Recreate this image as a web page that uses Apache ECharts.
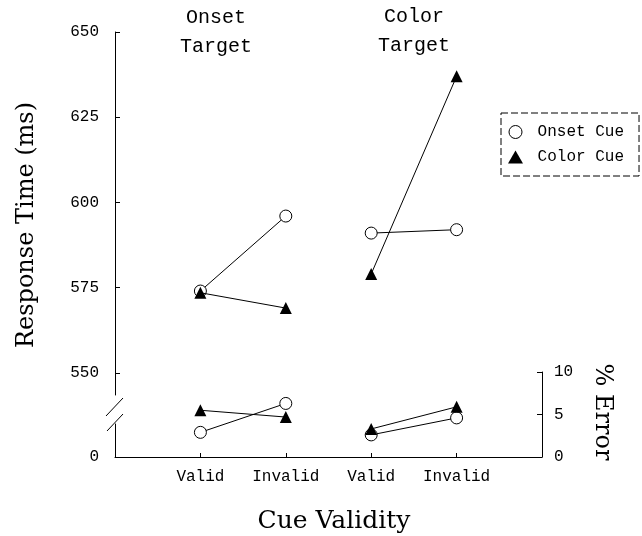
<!DOCTYPE html>
<html><head><meta charset="utf-8">
<script src="https://cdn.jsdelivr.net/npm/echarts@6/dist/echarts.min.js"></script>
<style>html,body{margin:0;padding:0;background:#fff}#c{width:642px;height:536px}</style>
</head><body><div id="c"></div>
<script>
// ---- data ----
const categories = ['Valid', 'Invalid', 'Valid', 'Invalid'];
const targetTitles = ['Onset\nTarget', 'Color\nTarget'];
const cueNames = ['Onset Cue', 'Color Cue'];
const rtOnsetCue = [574, 596, 591, 592];
const rtColorCue = [573.5, 569, 579, 637];
const errOnsetCue = [2.9, 6.3, 2.6, 4.6];
const errColorCue = [5.5, 4.7, 3.3, 5.9];
const rtTicks = [550, 575, 600, 625, 650];
const errTicks = [0, 5, 10];
const lowerTicks = [0];
const xTicks = [1, 2, 3, 4];

// ---- styles ----
const MONO = '"Liberation Mono", monospace';
const SERIF = '"DejaVu Serif", serif';
const black = '#000';
const lineStyle = { color: black, width: 1 };
const symStyles = [
  { symbol: 'circle', symbolSize: 12, itemStyle: { color: '#fff', borderColor: black, borderWidth: 1 } },
  { symbol: 'triangle', symbolSize: 12, itemStyle: { color: black, borderColor: black, borderWidth: 0 } }
];

function seg(arr, g) {
  return [[2 * g + 1, arr[2 * g]], [2 * g + 2, arr[2 * g + 1]]];
}
const series = [];
[[rtOnsetCue, rtColorCue, 0], [errOnsetCue, errColorCue, 1]].forEach(([a, b, gi]) => {
  [a, b].forEach((arr, ci) => {
    [0, 1].forEach(g => {
      series.push(Object.assign({
        type: 'line', name: cueNames[ci], xAxisIndex: gi, yAxisIndex: gi,
        data: seg(arr, g), lineStyle: lineStyle, z: 2 + ci,
        animation: false, silent: true
      }, symStyles[ci]));
    });
  });
});

const axLine = { show: true, onZero: false, lineStyle: { color: black, width: 1 } };
const lblBase = { color: black, fontFamily: MONO, fontSize: 16 };

const option = {
  backgroundColor: '#fff',
  animation: false,
  grid: [
    { left: 115, width: 427, top: 32, height: 363 },
    { left: 115, width: 427, top: 372, height: 85 },
    { left: 115, width: 427, top: 424, height: 33 }
  ],
  xAxis: [
    { gridIndex: 0, type: 'value', min: 0, max: 5, show: false },
    { gridIndex: 1, type: 'value', min: 0, max: 5, axisLine: axLine,
      axisTick: { show: true, inside: true, length: 4, customValues: xTicks, lineStyle: { color: black } },
      axisLabel: Object.assign({ customValues: xTicks, margin: 12, formatter: v => categories[Math.round(v) - 1] }, lblBase),
      splitLine: { show: false } },
    { gridIndex: 2, type: 'value', min: 0, max: 5, show: false }
  ],
  yAxis: [
    { gridIndex: 0, type: 'value', min: 543.5, max: 650, position: 'left', axisLine: axLine,
      axisTick: { show: true, inside: true, length: 5, customValues: rtTicks, lineStyle: { color: black } },
      axisLabel: Object.assign({ customValues: rtTicks, margin: 16 }, lblBase),
      splitLine: { show: false } },
    { gridIndex: 1, type: 'value', min: 0, max: 10, interval: 5, position: 'right', axisLine: axLine,
      axisTick: { show: true, inside: true, length: 5, customValues: errTicks, lineStyle: { color: black } },
      axisLabel: Object.assign({ customValues: errTicks, margin: 12 }, lblBase),
      splitLine: { show: false } },
    { gridIndex: 2, type: 'value', min: 0, max: 1, position: 'left', axisLine: axLine,
      axisTick: { show: false },
      axisLabel: Object.assign({ customValues: lowerTicks, margin: 16 }, lblBase),
      splitLine: { show: false } }
  ],
  legend: {
    left: 501, top: 113, orient: 'vertical',
    padding: [11, 15, 11, 7], itemGap: 9, itemWidth: 15, itemHeight: 13,
    borderColor: black, borderWidth: 1, borderType: [7, 3],
    data: [
      { name: cueNames[0], icon: 'circle', itemStyle: { color: '#fff', borderColor: black, borderWidth: 1 } },
      { name: cueNames[1], icon: 'triangle', itemStyle: { color: black, borderWidth: 0 } }
    ],
    formatter: n => ' ' + n,
    textStyle: { color: black, fontFamily: MONO, fontSize: 16 }
  },
  graphic: [
    { type: 'text', x: 216, y: 32, silent: true,
      style: { text: targetTitles[0], textAlign: 'center', textVerticalAlign: 'middle', lineHeight: 29, fontFamily: MONO, fontSize: 20, fill: black } },
    { type: 'text', x: 414, y: 31, silent: true,
      style: { text: targetTitles[1], textAlign: 'center', textVerticalAlign: 'middle', lineHeight: 29, fontFamily: MONO, fontSize: 20, fill: black } },
    { type: 'text', x: 27, y: 225, rotation: Math.PI / 2, silent: true,
      style: { text: 'Response Time (ms)', textAlign: 'center', textVerticalAlign: 'middle', fontFamily: SERIF, fontSize: 24, fill: black } },
    { type: 'text', x: 334, y: 521, silent: true,
      style: { text: 'Cue Validity', textAlign: 'center', textVerticalAlign: 'middle', fontFamily: SERIF, fontSize: 25, fill: black } },
    { type: 'text', x: 602, y: 412, rotation: -Math.PI / 2, silent: true,
      style: { text: '% Error', textAlign: 'center', textVerticalAlign: 'middle', fontFamily: SERIF, fontSize: 24, fill: black } },
    { type: 'line', silent: true, shape: { x1: 106, y1: 416, x2: 123, y2: 398 }, style: { stroke: black, lineWidth: 1 } },
    { type: 'line', silent: true, shape: { x1: 107, y1: 431, x2: 123, y2: 414 }, style: { stroke: black, lineWidth: 1 } }
  ],
  series: series
};

const chart = echarts.init(document.getElementById('c'), null, { renderer: 'canvas' });
chart.setOption(option);
</script>
</body></html>
